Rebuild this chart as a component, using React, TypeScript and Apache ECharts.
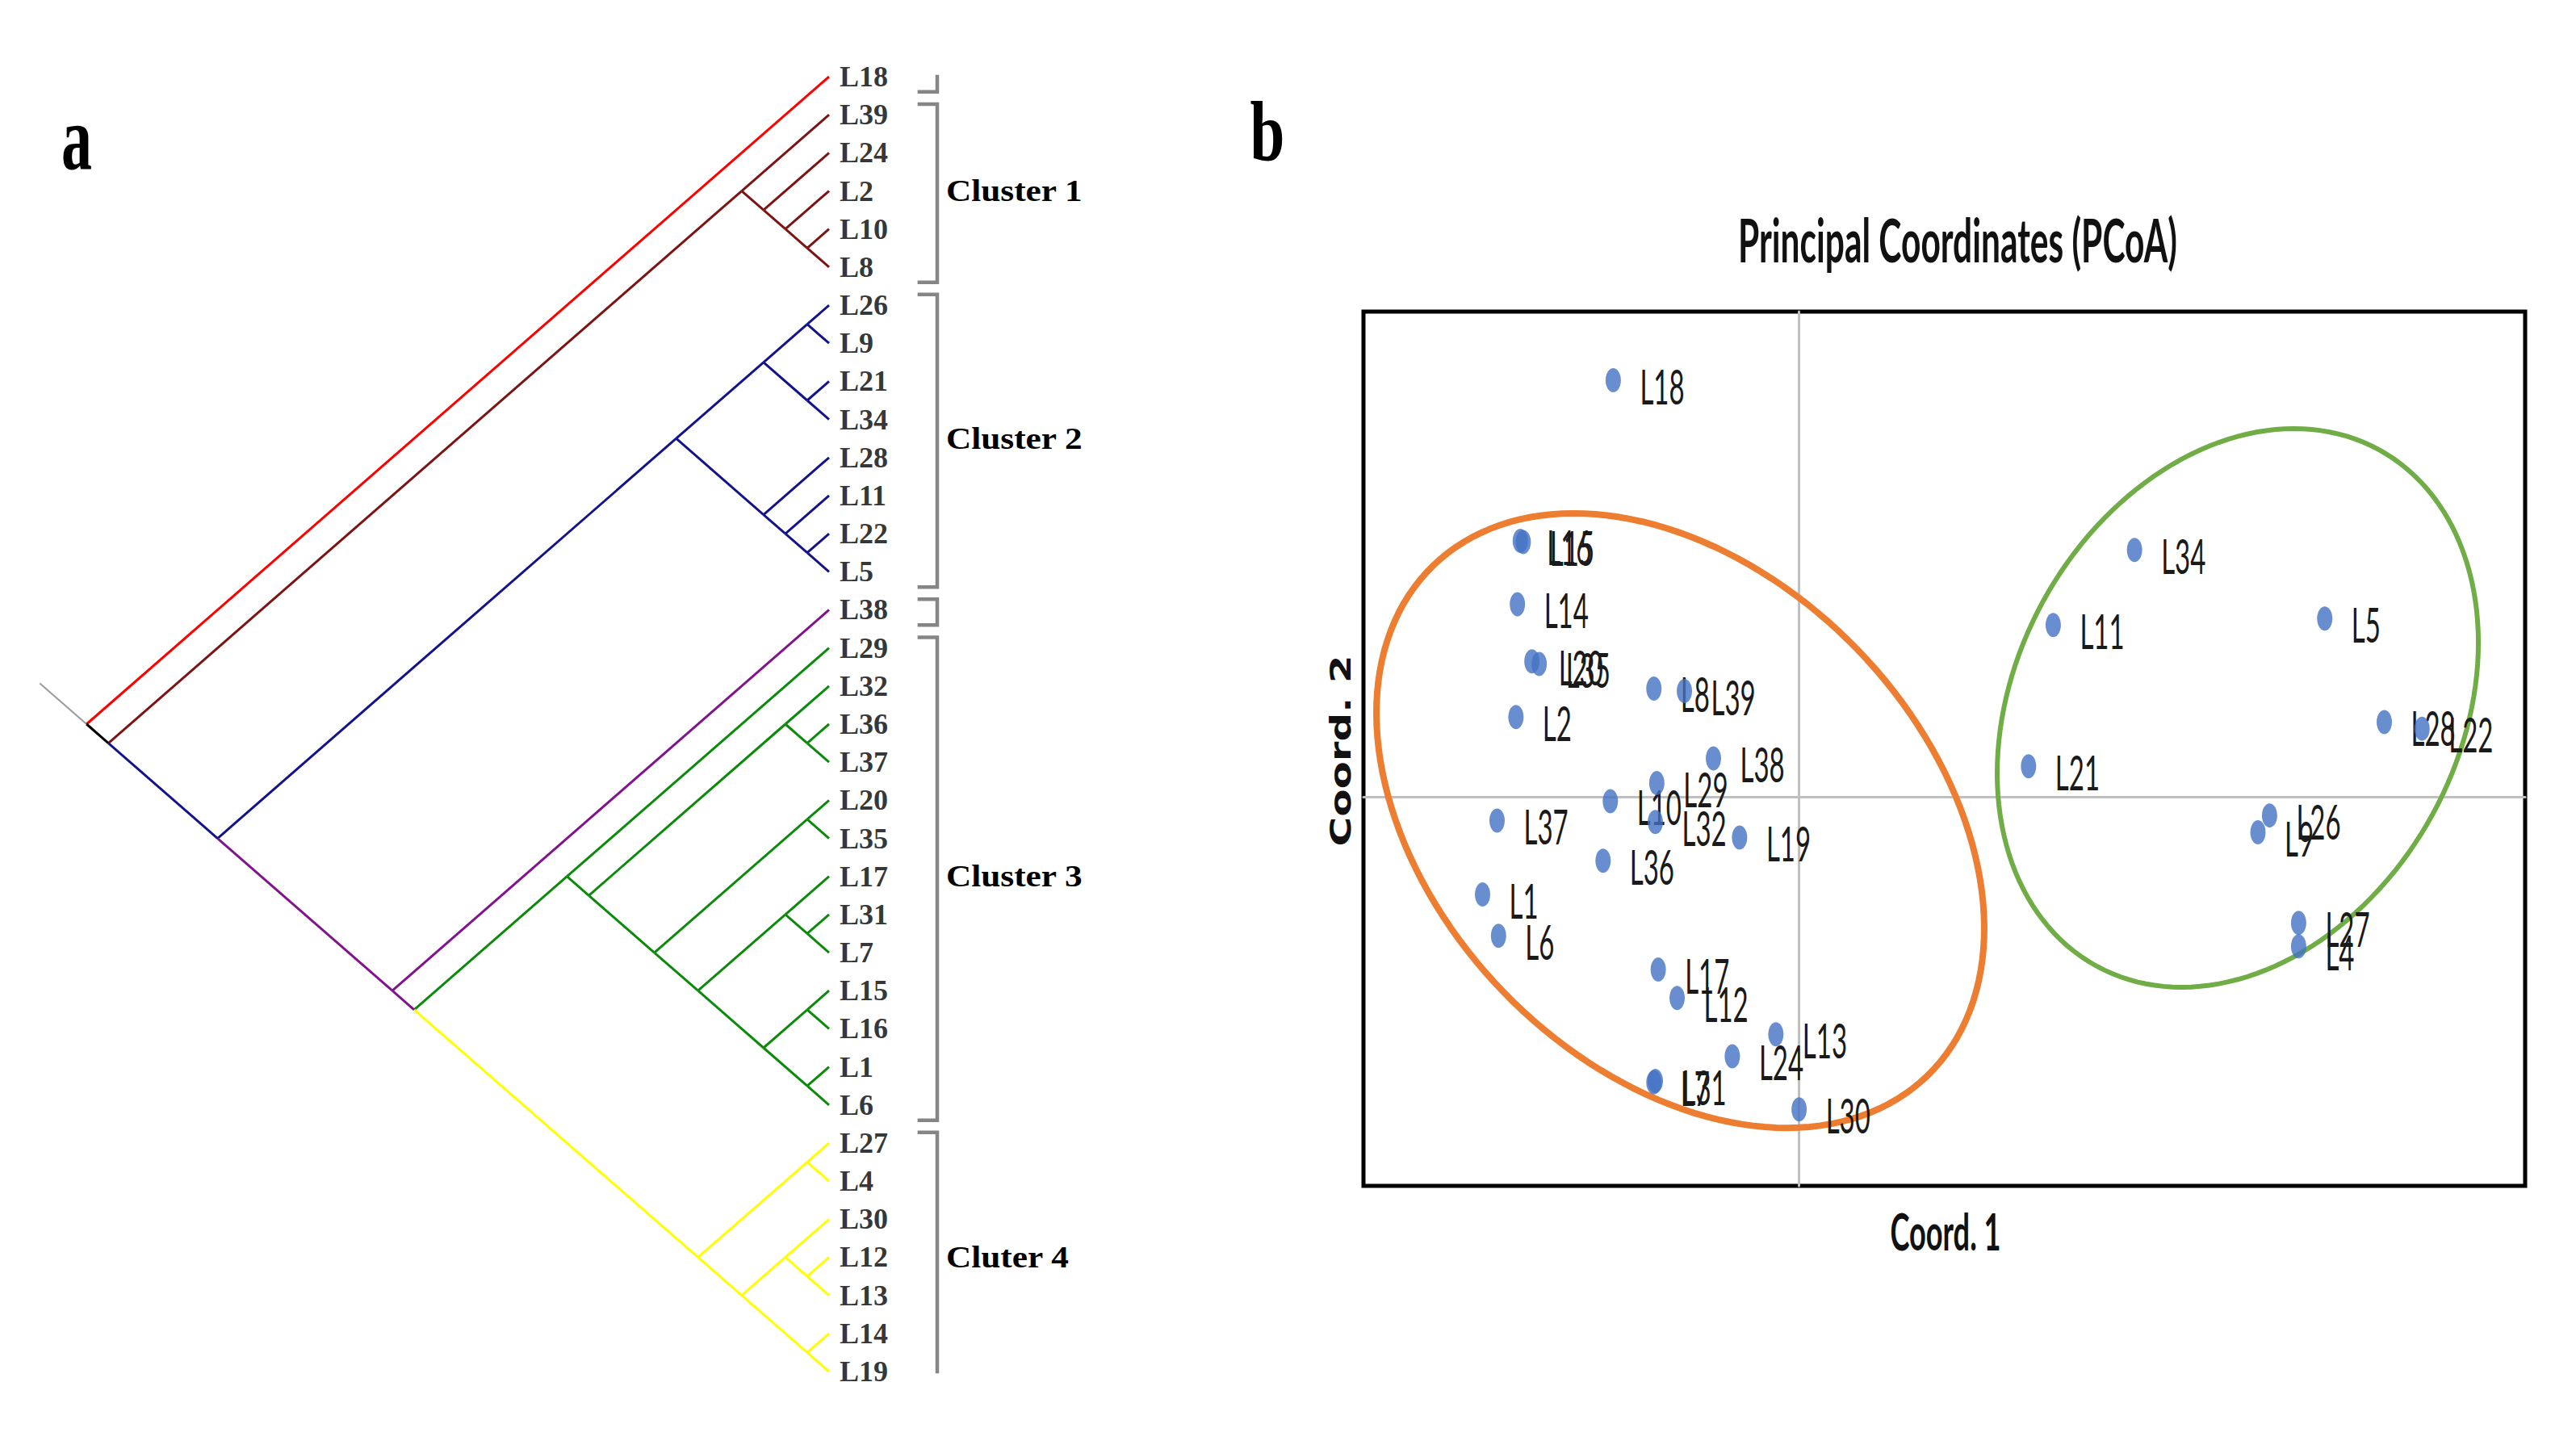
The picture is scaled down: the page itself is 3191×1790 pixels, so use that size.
import React, { useEffect, useRef } from "react";
import * as echarts from "echarts";

// ---------- Panel a: dendrogram topology ----------
const brownClade = ["L39", ["L24", ["L2", ["L10", "L8"]]]];
const cluster2Clade = [[["L26", "L9"], ["L21", "L34"]], ["L28", ["L11", ["L22", "L5"]]]];
const greenClade = ["L29", [["L32", ["L36", "L37"]], [["L20", "L35"], [["L17", ["L31", "L7"]], [["L15", "L16"], ["L1", "L6"]]]]]];
const yellowClade = [["L27", "L4"], [["L30", ["L12", "L13"]], ["L14", "L19"]]];
const tree = ["L18", [brownClade, [cluster2Clade, ["L38", [greenClade, yellowClade]]]]];

const branchColorKeys = ["L18-L18", "L39-L19", "L39-L8", "L26-L19", "L38-L19", "L29-L6", "L27-L19"];
const branchColorValues = ["#ff0000", "#000000", "#7d1414", "#14148a", "#80148c", "#0c8a0c", "#ffff00"];

const clusterNames = ["", "Cluster 1", "Cluster 2", "", "Cluster 3", "Cluter 4"];
const clusterFirst = ["L18", "L39", "L26", "L38", "L29", "L27"];
const clusterLast = ["L18", "L8", "L5", "L38", "L6", "L19"];

// ---------- Panel b: PCoA ----------
const pcoaNames = ["L18", "L15", "L16", "L14", "L20", "L35", "L8", "L39", "L2", "L38", "L29", "L10", "L32", "L37", "L19", "L36", "L1", "L6", "L17", "L12", "L13", "L24", "L7", "L31", "L30", "L34", "L11", "L5", "L28", "L22", "L21", "L26", "L9", "L27", "L4"];
const coord1 = [-0.128, -0.190, -0.192, -0.194, -0.184, -0.179, -0.100, -0.079, -0.195, -0.059, -0.098, -0.130, -0.099, -0.208, -0.041, -0.135, -0.218, -0.207, -0.097, -0.084, -0.016, -0.046, -0.100, -0.099, 0.000, 0.231, 0.175, 0.362, 0.403, 0.429, 0.158, 0.324, 0.316, 0.344, 0.344];
const coord2 = [0.322, 0.197, 0.198, 0.149, 0.105, 0.103, 0.084, 0.082, 0.062, 0.030, 0.011, -0.003, -0.019, -0.018, -0.031, -0.049, -0.075, -0.107, -0.133, -0.155, -0.183, -0.200, -0.220, -0.219, -0.241, 0.191, 0.133, 0.138, 0.058, 0.053, 0.024, -0.014, -0.027, -0.097, -0.115];

const ellipseCenters = [[-0.0818, -0.018], [0.3021, 0.069]];
const ellipseMajor = [[0.1702, -0.1969], [0.0973, 0.1993]];
const ellipseMinor = [[-0.1218, -0.1323], [0.1341, -0.0823]];
const ellipseColors = ["#ed7d31", "#70ad47"];
const ellipseWidths = [8, 6];

function layoutTree(t: any) {
  const leaves: string[] = [];
  const edges: any[] = [];
  function walk(n: any): any {
    if (typeof n === "string") {
      const i = leaves.length;
      leaves.push(n);
      return { first: i, last: i, x: 0, y: i, kids: [] };
    }
    const kids = n.map(walk);
    const first = kids[0].first;
    const last = kids[kids.length - 1].last;
    return { first, last, x: -(last - first) / 2, y: (first + last) / 2, kids };
  }
  const root = walk(t);
  function colorize(node: any, parentColor: string) {
    const key = leaves[node.first] + "-" + leaves[node.last];
    const idx = branchColorKeys.indexOf(key);
    node.color = idx >= 0 ? branchColorValues[idx] : parentColor;
    node.kids.forEach((k: any) => {
      colorize(k, node.color);
      edges.push({ coords: [[node.x, node.y], [k.x, k.y]], lineStyle: { color: k.color } });
    });
  }
  colorize(root, "#000000");
  return { leaves, edges, root };
}

export default function App() {
  const ref = useRef<HTMLDivElement>(null);
  useEffect(() => {
    document.body.style.margin = "0";
    if (!ref.current) return;
    const chart = echarts.init(ref.current, undefined, { renderer: "svg" });
    const { leaves, edges, root } = layoutTree(tree);
    const stub = 1.07;
    edges.unshift({
      coords: [[root.x, root.y], [root.x - stub, root.y - stub]],
      lineStyle: { color: "#9a9a9a", width: 2 },
    });
    const brTick = 2.027;
    const brX = 2.477;
    const brackets = clusterFirst.map((f, i) => {
      const a = leaves.indexOf(f);
      const b = leaves.indexOf(clusterLast[i]);
      return { coords: [[brTick, a - 0.28], [brX, a - 0.28], [brX, b + 0.4], [brTick, b + 0.4]] };
    });
    const clusterLabelText: string[] = [];
    const clusterLabelPos: number[][] = [];
    clusterNames.forEach((n, i) => {
      if (!n) return;
      const a = leaves.indexOf(clusterFirst[i]);
      const b = leaves.indexOf(clusterLast[i]);
      clusterLabelText.push(n);
      clusterLabelPos.push([2.68, (a + b) / 2]);
    });
    const pts = coord1.map((x, i) => [x, coord2[i]]);

    const textStyle = (extra: any) => ({ legacy: false, fill: "#000", ...extra });

    chart.setOption({
      animation: false,
      backgroundColor: "#ffffff",
      grid: [
        { left: 42.3, right: 1839.4, top: 95, bottom: 91 },
        { left: 1689, right: 63, top: 386, bottom: 321, show: true, borderColor: "#000", borderWidth: 5 },
      ],
      xAxis: [
        { type: "value", gridIndex: 0, min: -18.2, max: 6, show: false },
        {
          type: "value", gridIndex: 1, min: -0.3, max: 0.5,
          axisLine: { show: true, onZero: true, lineStyle: { color: "#c0c0c0", width: 3 } },
          axisTick: { show: false }, axisLabel: { show: false }, splitLine: { show: false },
        },
      ],
      yAxis: [
        { type: "value", gridIndex: 0, min: 0, max: 34, inverse: true, show: false },
        {
          type: "value", gridIndex: 1, min: -0.3, max: 0.375,
          axisLine: { show: true, onZero: true, lineStyle: { color: "#c0c0c0", width: 3 } },
          axisTick: { show: false }, axisLabel: { show: false }, splitLine: { show: false },
        },
      ],
      graphic: [
        { type: "text", x: 95, y: 171, scaleY: 1.5, style: textStyle({ text: "a", fontFamily: "Liberation Serif", fontWeight: "bold", fontSize: 76, align: "center", verticalAlign: "middle" }) },
        { type: "text", x: 1570, y: 164, scaleY: 1.37, style: textStyle({ text: "b", fontFamily: "Liberation Serif", fontWeight: "bold", fontSize: 77, align: "center", verticalAlign: "middle" }) },
        { type: "text", x: 2425, y: 296, scaleX: 0.574, style: textStyle({ text: "Principal Coordinates (PCoA)", fontFamily: "Lato", fontWeight: "bold", fontSize: 74, fill: "#111", align: "center", verticalAlign: "middle" }) },
        { type: "text", x: 2410, y: 1524, scaleX: 0.575, style: textStyle({ text: "Coord. 1", fontFamily: "Lato", fontWeight: "bold", fontSize: 63, fill: "#111", align: "center", verticalAlign: "middle" }) },
        { type: "text", x: 1661, y: 930, rotation: Math.PI / 2, scaleX: 1.39, style: textStyle({ text: "Coord. 2", fontFamily: "DejaVu Sans", fontWeight: "bold", fontSize: 36, fill: "#111", align: "center", verticalAlign: "middle" }) },
      ],
      series: [
        {
          type: "lines", coordinateSystem: "cartesian2d", xAxisIndex: 0, yAxisIndex: 0,
          lineStyle: { width: 3, opacity: 1, curveness: 0 }, silent: true,
          data: edges,
        },
        {
          type: "lines", coordinateSystem: "cartesian2d", xAxisIndex: 0, yAxisIndex: 0, polyline: true,
          lineStyle: { width: 4.5, opacity: 1, color: "#858585" }, silent: true,
          data: brackets,
        },
        {
          type: "scatter", xAxisIndex: 0, yAxisIndex: 0, symbolSize: 0, silent: true,
          data: leaves.map((n, i) => ({ name: n, value: [0, i] })),
          label: { show: true, position: "right", distance: 13, formatter: "{b}", color: "#000", fontFamily: "Liberation Serif", fontWeight: "bold", fontSize: 36 },
        },
        {
          type: "custom", xAxisIndex: 0, yAxisIndex: 0, silent: true,
          data: clusterLabelPos,
          renderItem: (params: any, api: any) => {
            const p = api.coord([api.value(0), api.value(1)]);
            return {
              type: "text", x: p[0], y: p[1], scaleX: 1.17,
              style: { legacy: false, text: clusterLabelText[params.dataIndex], fill: "#000", fontFamily: "Liberation Serif", fontWeight: "bold", fontSize: 37, align: "left", verticalAlign: "middle" },
            };
          },
        },
        {
          type: "custom", xAxisIndex: 1, yAxisIndex: 1, silent: true,
          data: ellipseCenters.map((c, i) => [c[0], c[1], i]),
          renderItem: (params: any, api: any) => {
            const i = params.dataIndex;
            const c = ellipseCenters[i];
            const u = ellipseMajor[i];
            const v = ellipseMinor[i];
            const points: number[][] = [];
            for (let k = 0; k <= 160; k++) {
              const t = (k / 160) * Math.PI * 2;
              points.push(api.coord([
                c[0] + u[0] * Math.cos(t) + v[0] * Math.sin(t),
                c[1] + u[1] * Math.cos(t) + v[1] * Math.sin(t),
              ]));
            }
            return { type: "polyline", shape: { points }, style: { stroke: ellipseColors[i], lineWidth: ellipseWidths[i], fill: null } };
          },
        },
        {
          type: "scatter", xAxisIndex: 1, yAxisIndex: 1, silent: true,
          symbol: "circle", symbolSize: [19, 30],
          itemStyle: { color: "#4472c4" },
          data: pts,
        },
        {
          type: "custom", xAxisIndex: 1, yAxisIndex: 1, silent: true,
          data: pts,
          renderItem: (params: any, api: any) => {
            const p = api.coord([api.value(0), api.value(1)]);
            return {
              type: "text", x: p[0] + 33, y: p[1] + 6, scaleX: 0.55,
              style: { legacy: false, text: pcoaNames[params.dataIndex], fill: "#1a1a1a", fontFamily: "Lato", fontSize: 60, align: "left", verticalAlign: "middle" },
            };
          },
        },
      ],
    });
    return () => chart.dispose();
  }, []);
  return <div ref={ref} style={{ width: 3191, height: 1790 }} />;
}
